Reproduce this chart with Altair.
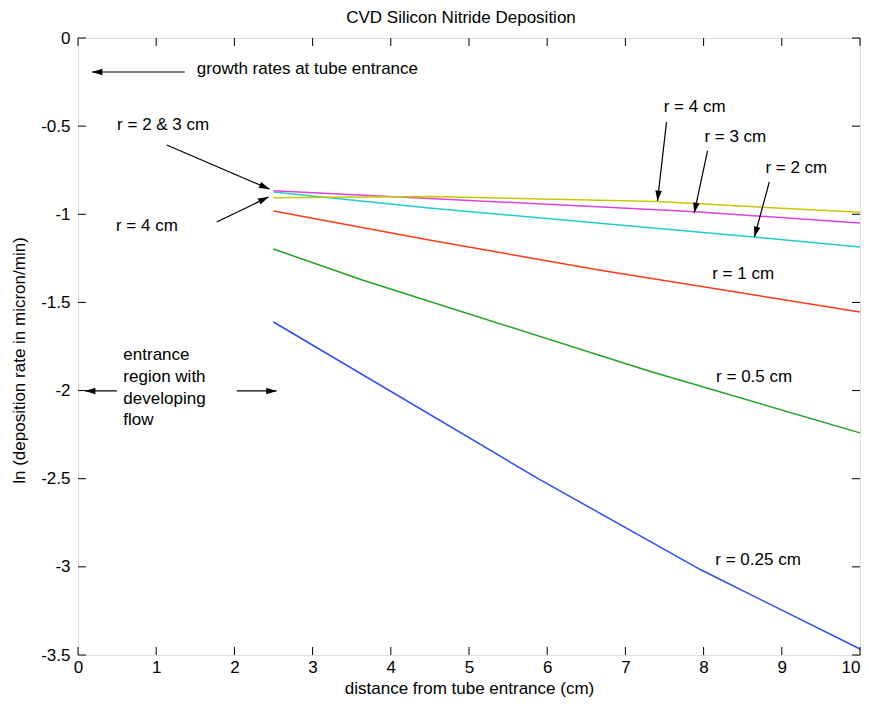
import math
import altair as alt
import pandas as pd

# ---------------- data ----------------
series_names = ["r = 0.25 cm", "r = 0.5 cm", "r = 1 cm", "r = 2 cm", "r = 3 cm", "r = 4 cm"]
series_colors = ["#2a4cff", "#22a022", "#ff3a1a", "#22cccc", "#dd44dd", "#c8c800"]

x_r025 = [2.5, 5.89, 7.97, 10.0]
y_r025 = [-1.611, -2.501, -3.018, -3.466]
x_r05 = [2.5, 3.635, 7.30, 10.0]
y_r05 = [-1.197, -1.373, -1.889, -2.240]
x_r1 = [2.5, 4.49, 6.66, 10.0]
y_r1 = [-0.981, -1.146, -1.316, -1.554]
x_r2 = [2.5, 4.49, 8.64, 10.0]
y_r2 = [-0.874, -0.964, -1.129, -1.185]
x_r3 = [2.5, 4.49, 7.90, 10.0]
y_r3 = [-0.866, -0.910, -0.985, -1.050]
x_r4 = [2.5, 4.50, 7.40, 10.0]
y_r4 = [-0.906, -0.899, -0.928, -0.989]

x_ticks = list(range(0, 11))
y_ticks = [0, -0.5, -1, -1.5, -2, -2.5, -3, -3.5]

ann_text = ["growth rates at tube entrance", "r = 2 & 3 cm", "r = 4 cm", "r = 4 cm",
            "r = 3 cm", "r = 2 cm", "r = 1 cm", "r = 0.5 cm", "r = 0.25 cm",
            "entrance", "region with", "developing", "flow"]
ann_x = [1.52, 0.50, 0.485, 7.49, 8.01, 8.79, 8.11, 8.16, 8.15, 0.58, 0.58, 0.58, 0.58]
ann_y = [-0.176, -0.493, -1.066, -0.391, -0.561, -0.737, -1.34, -1.923, -2.961,
         -1.798, -1.923, -2.048, -2.167]

arr_x0 = [1.365, 1.135, 1.773, 7.526, 8.05, 8.84, 0.497, 2.03]
arr_y0 = [-0.193, -0.607, -1.044, -0.476, -0.641, -0.817, -2.002, -2.002]
arr_x1 = [0.179, 2.449, 2.436, 7.41, 7.88, 8.65, 0.089, 2.54]
arr_y1 = [-0.193, -0.857, -0.902, -0.924, -0.993, -1.129, -2.002, -2.002]

# ---------------- layout ----------------
W, H = 782, 617
FONT = "Liberation Sans"
FS = 17

xs = alt.Scale(domain=[0, 10], nice=False, zero=False)
ys = alt.Scale(domain=[-3.5, 0], nice=False, zero=False)

rows = []
for name, xv, yv in zip(series_names,
                        [x_r025, x_r05, x_r1, x_r2, x_r3, x_r4],
                        [y_r025, y_r05, y_r1, y_r2, y_r3, y_r4]):
    for i, (a, b) in enumerate(zip(xv, yv)):
        rows.append({"series": name, "x": a, "y": b, "o": i})
lines_df = pd.DataFrame(rows)

lines = alt.Chart(lines_df).mark_line(strokeWidth=1.5).encode(
    x=alt.X("x:Q", scale=xs, axis=alt.Axis(
        title="distance from tube entrance (cm)", values=x_ticks, ticks=False,
        domain=False, grid=False, labelPadding=4, labelFontSize=FS,
        labelExpr="'' + datum.value",
        labelAlign={"condition": {"test": "datum.value == 10", "value": "right"}, "value": "center"},
        titleFontSize=FS, titleFontWeight="normal", titlePadding=5,
        labelFont=FONT, titleFont=FONT, labelColor="black", titleColor="black",
        labelFlush=False)),
    y=alt.Y("y:Q", scale=ys, axis=alt.Axis(
        title="ln (deposition rate in micron/min)", values=y_ticks, ticks=False,
        domain=False, grid=False, labelPadding=8, labelFontSize=FS,
        labelExpr="'' + datum.value",
        titleFontSize=FS, titleFontWeight="normal", titleX=-59, titleY=322,
        titleBaseline="middle", titleAngle=270,
        labelFont=FONT, titleFont=FONT, labelColor="black", titleColor="black",
        labelFlush=False)),
    color=alt.Color("series:N", scale=alt.Scale(domain=series_names, range=series_colors),
                    legend=None),
    order="o:Q",
)

xt_df = pd.DataFrame({"t": x_ticks})
yt_df = pd.DataFrame({"t": y_ticks})
tick_len = 8
xt_bottom = alt.Chart(xt_df).mark_rule(color="black", strokeWidth=1).encode(
    x=alt.X("t:Q", scale=xs), y=alt.value(H), y2=alt.value(H - tick_len))
xt_top = alt.Chart(xt_df).mark_rule(color="black", strokeWidth=1).encode(
    x=alt.X("t:Q", scale=xs), y=alt.value(0), y2=alt.value(tick_len))
yt_left = alt.Chart(yt_df).mark_rule(color="black", strokeWidth=1).encode(
    y=alt.Y("t:Q", scale=ys), x=alt.value(0), x2=alt.value(tick_len))
yt_right = alt.Chart(yt_df).mark_rule(color="black", strokeWidth=1).encode(
    y=alt.Y("t:Q", scale=ys), x=alt.value(W), x2=alt.value(W - tick_len))

ann_df = pd.DataFrame({"text": ann_text, "x": ann_x, "y": ann_y})
texts = alt.Chart(ann_df).mark_text(align="left", baseline="middle", font=FONT,
                                    fontSize=FS, color="black").encode(
    x=alt.X("x:Q", scale=xs), y=alt.Y("y:Q", scale=ys), text="text:N")

px_x = W / 10.0
px_y = H / 3.5
angles = []
for a0, b0, a1, b1 in zip(arr_x0, arr_y0, arr_x1, arr_y1):
    dxp = (a1 - a0) * px_x
    dyp = -(b1 - b0) * px_y
    angles.append(math.degrees(math.atan2(dxp, -dyp)) % 360)
arr_df = pd.DataFrame({"x0": arr_x0, "y0": arr_y0, "x1": arr_x1, "y1": arr_y1, "ang": angles})

arrow_lines = alt.Chart(arr_df).mark_rule(color="black", strokeWidth=1.2).encode(
    x=alt.X("x0:Q", scale=xs), y=alt.Y("y0:Q", scale=ys), x2="x1:Q", y2="y1:Q")
arrow_heads = alt.Chart(arr_df).mark_point(
    shape="M0,0L-0.38,1.2L0.38,1.2Z", filled=True, color="black", opacity=1,
    size=300, strokeWidth=0).encode(
    x=alt.X("x1:Q", scale=xs), y=alt.Y("y1:Q", scale=ys),
    angle=alt.Angle("ang:Q", scale=None))

chart = alt.layer(lines, xt_bottom, xt_top, yt_left, yt_right, arrow_lines, arrow_heads, texts).properties(
    width=W, height=H,
    title=alt.TitleParams("CVD Silicon Nitride Deposition", font=FONT, fontSize=FS,
                          fontWeight="normal", color="black", anchor="middle",
                          offset=2, dx=-8),
    autosize=alt.AutoSizeParams(type="none"),
    padding={"left": 70, "top": 30, "right": 1, "bottom": 44},
).configure_view(stroke="black", strokeWidth=1.2).configure(background="white")

chart.save("out.html", embed_options={"renderer": "svg", "actions": False})
